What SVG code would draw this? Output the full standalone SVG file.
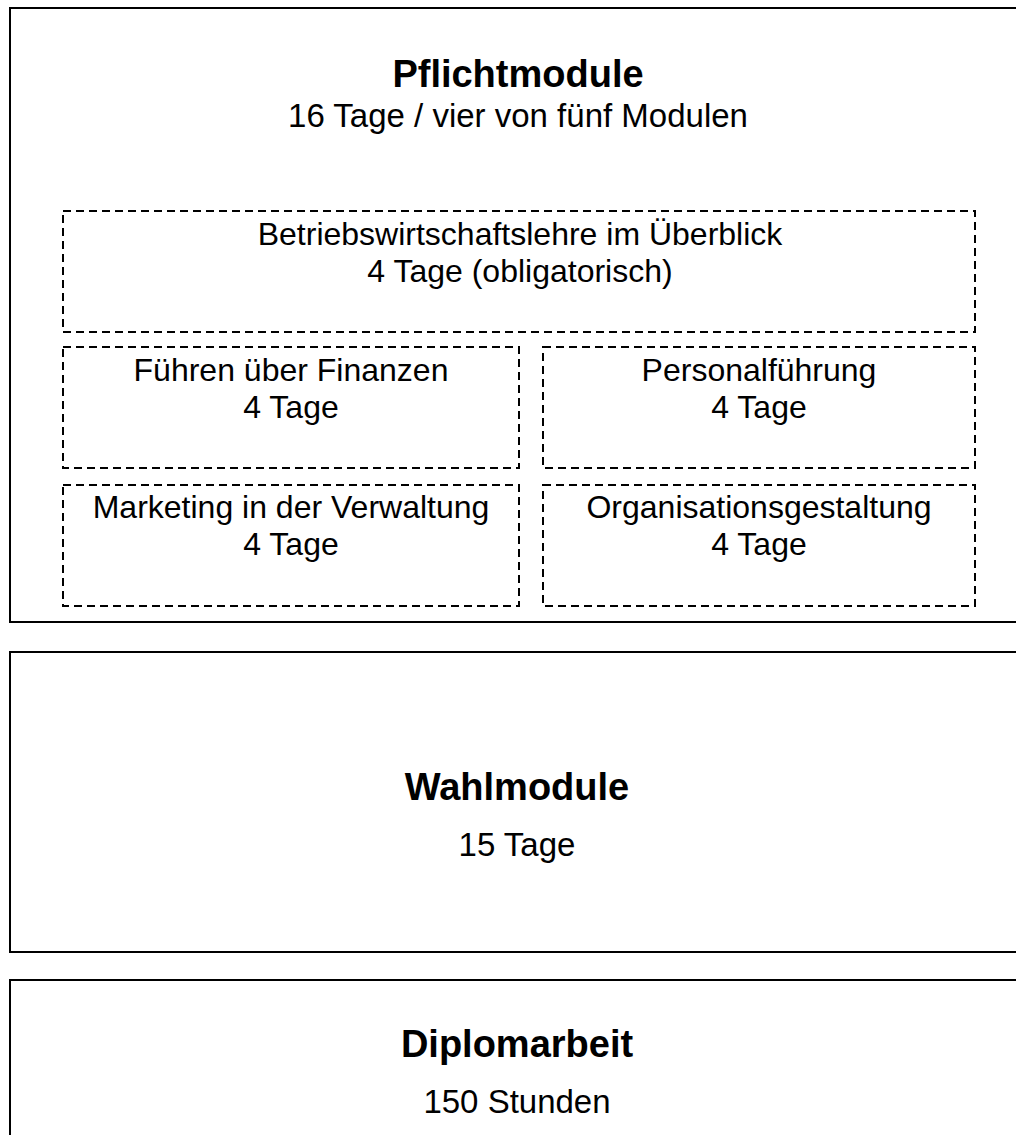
<svg xmlns="http://www.w3.org/2000/svg" width="1016" height="1135" viewBox="0 0 1016 1135">
<style>
.outer{fill:#fff;stroke:#000;stroke-width:2}
.mod{fill:none;stroke:#000;stroke-width:2;stroke-dasharray:8 5}
text{font-family:"Liberation Sans",Arial,sans-serif;fill:#000;text-anchor:middle}
.t{font-size:38px;font-weight:bold}
.s{font-size:33px}
.m{font-size:32px}
</style>
<rect width="1016" height="1135" fill="#fff"/>
<g id="pflicht">
<rect class="outer" x="10" y="8" width="1030" height="614"/>
<text class="t" x="518" y="87">Pflichtmodule</text>
<text class="s" x="518" y="127">16 Tage / vier von fünf Modulen</text>
</g>
<g id="bwl">
<rect class="mod" x="63" y="211" width="912" height="121"/>
<text class="m" x="520" y="245">Betriebswirtschaftslehre im Überblick</text>
<text class="m" x="520" y="282">4 Tage (obligatorisch)</text>
</g>
<g id="finanzen">
<rect class="mod" x="63" y="347" width="456" height="121"/>
<text class="m" x="291" y="381">Führen über Finanzen</text>
<text class="m" x="291" y="418">4 Tage</text>
</g>
<g id="personal">
<rect class="mod" x="543" y="347" width="432" height="121"/>
<text class="m" x="759" y="381">Personalführung</text>
<text class="m" x="759" y="418">4 Tage</text>
</g>
<g id="marketing">
<rect class="mod" x="63" y="485" width="456" height="121"/>
<text class="m" x="291" y="518">Marketing in der Verwaltung</text>
<text class="m" x="291" y="555">4 Tage</text>
</g>
<g id="organisation">
<rect class="mod" x="543" y="485" width="432" height="121"/>
<text class="m" x="759" y="518">Organisationsgestaltung</text>
<text class="m" x="759" y="555">4 Tage</text>
</g>
<g id="wahl">
<rect class="outer" x="10" y="652" width="1030" height="300"/>
<text class="t" x="517" y="800">Wahlmodule</text>
<text class="s" x="517" y="856">15 Tage</text>
</g>
<g id="diplom">
<rect class="outer" x="10" y="980" width="1030" height="200"/>
<text class="t" x="517" y="1057">Diplomarbeit</text>
<text class="s" x="517" y="1113">150 Stunden</text>
</g>
<g id="connectors"/>
</svg>
